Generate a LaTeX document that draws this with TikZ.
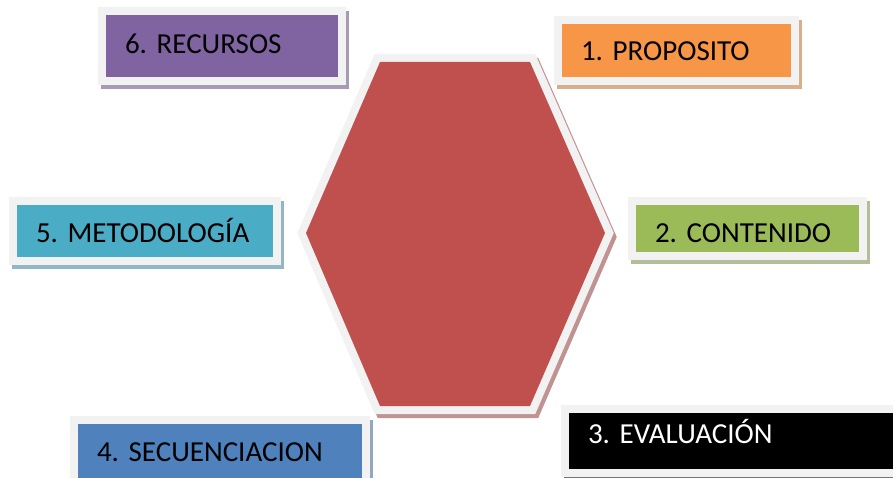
\documentclass[tikz,border=0pt]{standalone}
\usepackage{fontspec}
\setmainfont{Carlito}
\usepackage{xcolor}
\usepackage{tikz}
\usetikzlibrary{shadows}

\definecolor{frame}{HTML}{F2F2F2}
\definecolor{shade}{HTML}{C0C0C0}
\definecolor{hexred}{HTML}{C0504D}
\definecolor{proporange}{HTML}{F79646}
\definecolor{contgreen}{HTML}{9BBB59}
\definecolor{metteal}{HTML}{4BACC6}
\definecolor{secblue}{HTML}{4F81BD}
\definecolor{recpurple}{HTML}{8064A2}

\begin{document}
\frenchspacing
\begin{tikzpicture}[
  x=1pt, y=-1pt,
  card/.style={rectangle, fill=#1, draw=frame, line width=8pt, inner xsep=23pt, inner ysep=0pt,
    align=left, text height=19pt, text depth=0pt, font=\fontsize{29}{34}\selectfont,
    drop shadow={shadow xshift=3pt, shadow yshift=-4pt, opacity=1, fill=#1!40!shade, draw=#1!40!shade, line width=8pt}},
  hexframe/.style={line width=16pt, line join=miter}
]
\useasboundingbox (0,0) rectangle (893,478);
\clip (0,0) rectangle (893,478);

\coordinate (h1) at (380,62);
\coordinate (h2) at (530,62);
\coordinate (h3) at (605,233);
\coordinate (h4) at (530,406);
\coordinate (h5) at (380,406);
\coordinate (h6) at (306,233);

\path[hexframe, transform canvas={shift={(3,4)}}, fill=hexred!40!shade, draw=hexred!40!shade]
  (h1) -- (h2) -- (h3) -- (h4) -- (h5) -- (h6) -- cycle;
\draw[hexframe, frame] (h1) -- (h2) -- (h3) -- (h4) -- (h5) -- (h6) -- cycle;
\fill[hexred] (h1) -- (h2) -- (h3) -- (h4) -- (h5) -- (h6) -- cycle;

\node[card=recpurple, text width=194pt, minimum height=70pt, text height=16pt] (recursos) at (222,46) {6. RECURSOS};
\node[card=proporange, text width=191pt, minimum height=61pt, text height=21pt] (proposito) at (676.5,50.5) {1. PROPOSITO};
\node[card=metteal, text width=218pt, minimum height=60pt, text height=22pt] (metodologia) at (145,231) {5. METODOLOGÍA};
\node[card=contgreen, text width=185pt, minimum height=55pt, text height=27pt] (contenido) at (747.5,228.5) {2. CONTENIDO};
\node[card=secblue, text width=246pt, minimum height=70pt, text height=13pt] (secuenciacion) at (220,455) {4. SECUENCIACION};
\node[card=black, text=white, text width=319pt, minimum height=64pt, text height=5pt] (evaluacion) at (747.5,441) {3. EVALUACIÓN};
\end{tikzpicture}
\end{document}
